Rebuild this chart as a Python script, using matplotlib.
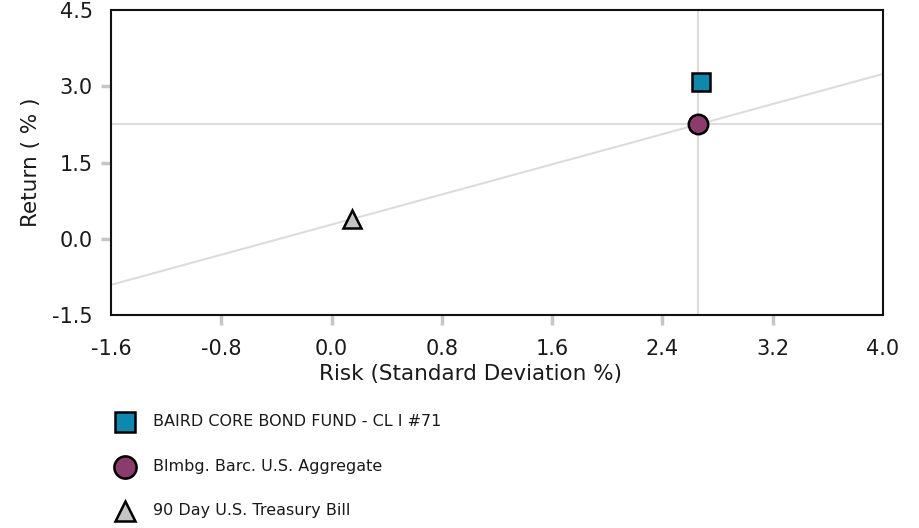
import matplotlib
matplotlib.use("Agg")
import matplotlib.pyplot as plt
import numpy as np

names = ["BAIRD CORE BOND FUND - CL I #71", "Blmbg. Barc. U.S. Aggregate", "90 Day U.S. Treasury Bill"]
risk = [2.68, 2.66, 0.15]
ret = [3.09, 2.25, 0.39]
colors = ["#0E88AE", "#8B3B6C", "#C4C4C4"]
markers = ["s", "o", "^"]

x_ticks = [-1.6, -0.8, 0.0, 0.8, 1.6, 2.4, 3.2, 4.0]
y_ticks = [-1.5, 0.0, 1.5, 3.0, 4.5]

plt.rcParams['font.family'] = ['DejaVu Sans']

fig = plt.figure(figsize=(9.2, 5.28), dpi=100)
ax = fig.add_axes([0.1207, 0.4034, 0.9598 - 0.1207, 0.981 - 0.4034])

ax.set_xlim(x_ticks[0], x_ticks[-1])
ax.set_ylim(y_ticks[0], y_ticks[-1])

grid_c = "#DCDCDC"
# benchmark crosshair
ax.axvline(risk[1], color=grid_c, lw=1.5, zorder=1)
ax.axhline(ret[1], color=grid_c, lw=1.5, zorder=1)
# capital market line through risk-free and benchmark
ax.axline((risk[2], ret[2]), (risk[1], ret[1]), color=grid_c, lw=1.5, zorder=1)

sizes = [13.5, 14, 13]
for r, m, c, mk, s in zip(risk, ret, colors, markers, sizes):
    ax.plot(r, m, marker=mk, ms=s, mfc=c, mec="black", mew=1.8, ls="none", zorder=3)

ax.set_xticks(x_ticks)
ax.set_yticks(y_ticks)
ax.set_xticklabels([f"{v:.1f}" for v in x_ticks])
ax.set_yticklabels([f"{v:.1f}" for v in y_ticks])
ax.tick_params(axis="both", labelsize=15, color="#C3C7CB", width=2.5, length=7, pad=6, labelcolor="#1a1a1a")
ax.tick_params(axis="x", pad=10)
for t in (ax.xaxis.get_major_ticks()[0], ax.xaxis.get_major_ticks()[-1],
          ax.yaxis.get_major_ticks()[0], ax.yaxis.get_major_ticks()[-1]):
    t.tick1line.set_visible(False)
for sp in ax.spines.values():
    sp.set_linewidth(1.5)
    sp.set_color("#111111")

ax.set_xlabel("Risk (Standard Deviation %)", fontsize=15.5, color="#1a1a1a", labelpad=5)
ax.xaxis.set_label_coords(0.466, -0.162)
ax.set_ylabel("Return ( % )", fontsize=15.5, color="#1a1a1a", labelpad=8)

# legend
leg_y = [422, 467, 511]
leg_sizes = [15, 16, 15]
for name, c, mk, y, s in zip(names, colors, markers, leg_y, leg_sizes):
    yf = 1 - y / 528
    fig.add_artist(matplotlib.lines.Line2D([125 / 920], [yf], marker=mk, ms=s, mfc=c, mec="black",
                                           mew=1.8, ls="none", transform=fig.transFigure))
    fig.text(153 / 920, yf, name, fontsize=11.5, va="center", ha="left", color="#1a1a1a")

fig.savefig("out.png", dpi=100)
